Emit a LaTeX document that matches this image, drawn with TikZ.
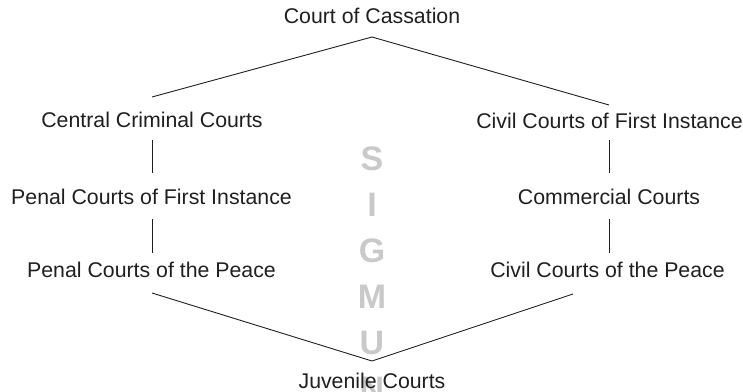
\documentclass[tikz,border=0pt]{standalone}
\usepackage{fontspec}
\setmainfont{Liberation Sans}
\usetikzlibrary{calc}
\begin{document}
\begin{tikzpicture}[x=1pt,y=-1pt,
  court/.style={inner sep=0pt, text height=15.3pt, text depth=0pt,
    font=\fontsize{21.3}{24}\selectfont, text=black!88},
  link/.style={draw=black!88, line width=0.9pt},
  wm/.style={inner sep=0pt, text height=24.5pt, text depth=0pt, text=black!21,
    font=\fontsize{34}{36}\selectfont\bfseries}]
\useasboundingbox (0,0) rectangle (743,391);

% watermark letters running down the middle
\node[wm] (w1) at (372,158) {S};
\node[wm] (w2) at (372,204) {I};
\node[wm] (w3) at (372,250) {G};
\node[wm] (w4) at (372,296) {M};
\node[wm] (w5) at (372,342) {U};
\node[wm] (w6) at (372,388) {N};

% courts
\node[court] (cas) at (372,16)    {Court of Cassation};
\node[court] (ccc) at (152,120)   {Central Criminal Courts};
\node[court] (pfi) at (151.5,196.5) {Penal Courts of First Instance};
\node[court] (ppc) at (151.5,270) {Penal Courts of the Peace};
\node[court] (cfi) at (609.5,121) {Civil Courts of First Instance};
\node[court] (com) at (609,196.5) {Commercial Courts};
\node[court] (cpc) at (607.5,270) {Civil Courts of the Peace};
\node[court] (juv) at (372,380.5) {Juvenile Courts};

% attachment points of the diagonal links
\coordinate (casB) at ($(cas)+(0,21)$);
\coordinate (cccT) at ($(ccc)+(0,-23)$);
\coordinate (cfiT) at ($(cfi)+(-0.5,-16)$);
\coordinate (ppcB) at ($(ppc)+(0.5,23)$);
\coordinate (cpcB) at ($(cpc)+(-34.5,24)$);
\coordinate (juvT) at ($(juv)+(0,-19.5)$);

% connectors
\draw[link] (cccT) -- (casB) -- (cfiT);
\draw[link] ($(ccc)+(0,20)$) -- ($(pfi)+(0.5,-23.5)$);
\draw[link] ($(pfi)+(0.5,22.5)$) -- ($(ppc)+(0.5,-17)$);
\draw[link] ($(cfi)+(-0.5,19)$) -- ($(com)+(0,-23.5)$);
\draw[link] ($(com)+(0,22.5)$) -- ($(cpc)+(1.5,-17)$);
\draw[link] (ppcB) -- (juvT) -- (cpcB);
\end{tikzpicture}
\end{document}
